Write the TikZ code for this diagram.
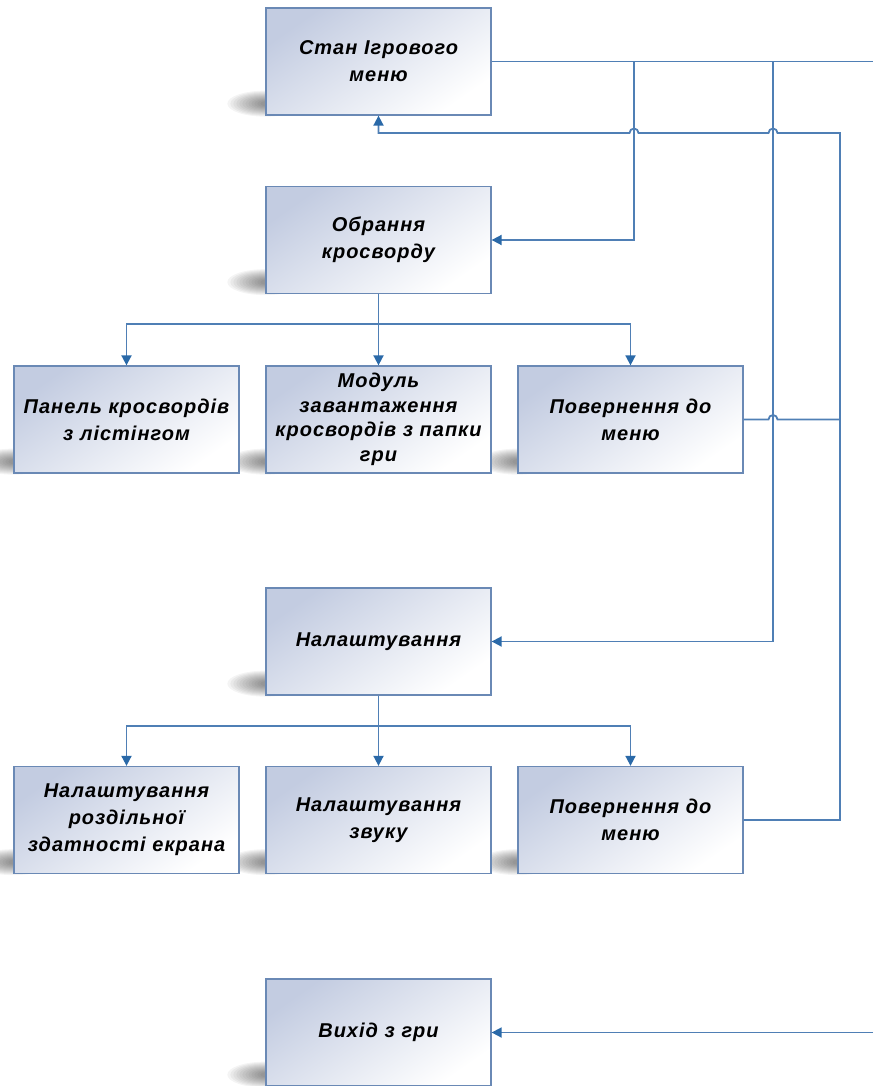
\documentclass[tikz,border=0pt]{standalone}
\usepackage{fontspec}
\setmainfont{Liberation Sans}
\usetikzlibrary{arrows.meta, calc, backgrounds}

\definecolor{linecol}{HTML}{4F7FB5}
\definecolor{tipcol}{HTML}{2A69A8}
\definecolor{boxedge}{HTML}{6A89B5}
\definecolor{boxtop}{HTML}{C3CCE1}

\tikzset{
  box/.style={draw=boxedge, line width=1.3pt,
    top color=boxtop, bottom color=white, shading angle=35,
    minimum width=225pt, minimum height=107pt, inner sep=0pt,
    text width=222pt, align=center,
    font=\bfseries\itshape\fontsize{20}{27}\selectfont\addfontfeatures{LetterSpace=5}},
  tightbox/.style={box,
    font=\bfseries\itshape\fontsize{20}{24.5}\selectfont\addfontfeatures{LetterSpace=5}},
  link/.style={draw=linecol, line width=1.8pt},
  arrow/.style={link, -{Triangle[length=10pt, width=10pt, color=tipcol]}}
}

\begin{document}
\begin{tikzpicture}[x=1pt, y=-1pt]
\useasboundingbox (0,0) rectangle (873,1086);

% boxes
\node[box] (menu)     at (378.5,61.5)   {Стан Ігрового\\меню};
\node[box] (choose)   at (378.5,240)    {Обрання\\кросворду};
\node[box] (panel)    at (126.5,419.5)  {Панель кросвордів\\з лістінгом};
\node[tightbox] (loader) at (378.5,419.5) {Модуль\\завантаження\\кросвордів з папки\\гри};
\node[box] (back1)    at (630.5,419.5)  {Повернення до\\меню};
\node[box] (settings) at (378.5,641.5)  {Налаштування};
\node[box] (res)      at (126.5,820)    {Налаштування\\роздільної\\здатності екрана};
\node[box] (sound)    at (378.5,820)    {Налаштування\\звуку};
\node[box] (back2)    at (630.5,820)    {Повернення до\\меню};
\node[box] (exit)     at (378.5,1032.5) {Вихід з гри};

% soft smudge of shadow at the lower left corner of each box
\begin{scope}[on background layer]
  \foreach \b in {menu,choose,panel,loader,back1,settings,res,sound,back2,exit}{
    \foreach \k in {0,...,11}{
      \fill[black, opacity=0.045]
        ($(\b.south west)+(0,-12)$) ellipse[x radius={38pt-3pt*\k}, y radius={13pt-0.95pt*\k}];
    }
  }
\end{scope}

% junction points
\coordinate (j1)   at (634,61.5);
\coordinate (j2)   at (773,61.5);
\coordinate (rail) at (840,133);
\coordinate (outR) at (873,61.5);
\coordinate (inR)  at (873,1032.5);
\coordinate (b1)   at (378.5,324);
\coordinate (b2)   at (378.5,726);

% menu outputs
\draw[link] (menu.east) -- (outR);
\draw[arrow] (j1) |- (choose.east);
\draw[arrow] (j2) |- (settings.east);

% returns to the menu
\draw[arrow] (back2.east) -| (rail)
  -- ($(j2 |- rail)+(4.5,0)$) arc[start angle=0, end angle=180, radius=4.5pt]
  -- ($(j1 |- rail)+(4.5,0)$) arc[start angle=0, end angle=180, radius=4.5pt]
  -- (menu.south |- rail) -- (menu.south);
\draw[link] (back1.east)
  -- ($(j2 |- back1.east)+(-4.5,0)$) arc[start angle=180, end angle=0, radius=4.5pt]
  -- (rail |- back1.east);

% crossword selection branches
\draw[link] (choose.south) -- (b1);
\draw[link] (panel.north |- b1) -- (back1.north |- b1);
\draw[arrow] (b1) -| (panel.north);
\draw[arrow] (b1) -- (loader.north);
\draw[arrow] (b1) -| (back1.north);

% settings branches
\draw[link] (settings.south) -- (b2);
\draw[link] (res.north |- b2) -- (back2.north |- b2);
\draw[arrow] (b2) -| (res.north);
\draw[arrow] (b2) -- (sound.north);
\draw[arrow] (b2) -| (back2.north);

% exit
\draw[arrow] (inR) -- (exit.east);
\end{tikzpicture}
\end{document}
